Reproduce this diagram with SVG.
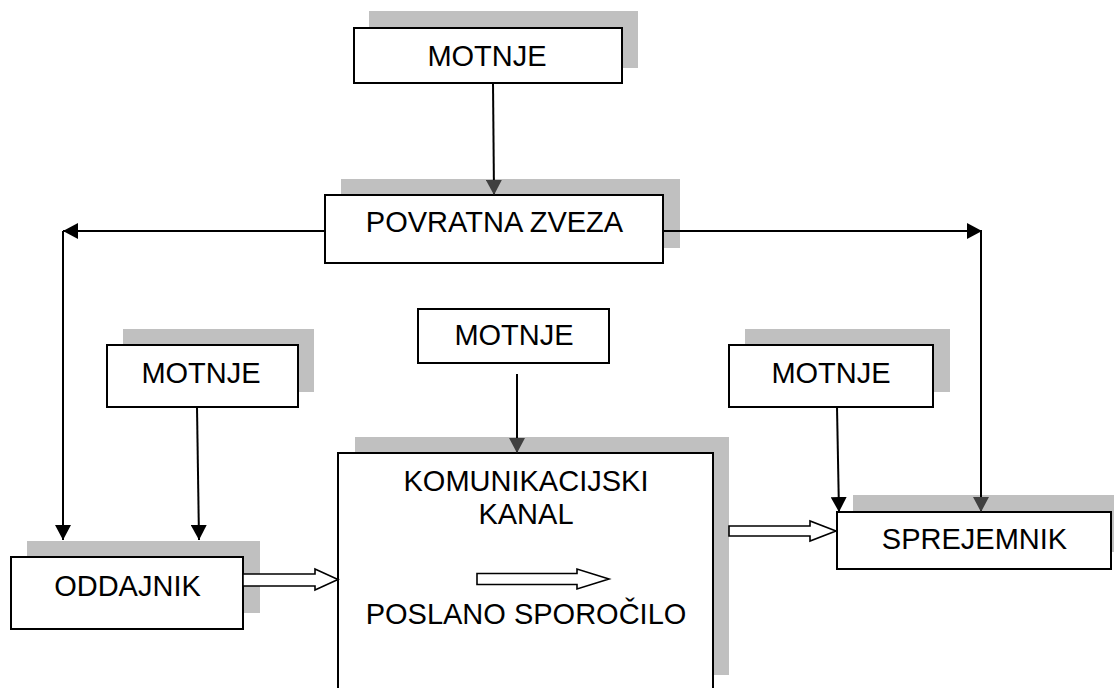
<svg xmlns="http://www.w3.org/2000/svg" width="1114" height="688" viewBox="0 0 1114 688">
<style>
.bg{fill:#ffffff}
.shadow{fill:#c0c0c0;stroke:none}
.box{fill:#ffffff;stroke:#000000;stroke-width:2}
.lbl{font-family:"Liberation Sans",Arial,sans-serif;font-size:29px;fill:#000000;text-anchor:middle}
.ln{fill:none;stroke:#000000;stroke-width:2}
.hollow{fill:#ffffff;stroke:#000000;stroke-width:1.6;stroke-linejoin:miter}
</style>
<defs>
<marker id="arr" markerUnits="userSpaceOnUse" viewBox="0 0 15 16" markerWidth="15" markerHeight="16" refX="15" refY="8" orient="auto">
<path d="M0,0 L15,8 L0,16 Z" fill="#000000"/>
</marker>
<marker id="arrg" markerUnits="userSpaceOnUse" viewBox="0 0 15 16" markerWidth="15" markerHeight="16" refX="15" refY="8" orient="auto">
<path d="M0,0 L15,8 L0,16 Z" fill="#404040"/>
</marker>
</defs>
<rect class="bg" x="0" y="0" width="1114" height="688"/>

<g id="motnje-top">
<rect class="shadow" x="369" y="11" width="269" height="57"/>
<rect class="box" x="354" y="28" width="268" height="55"/>
<text class="lbl" x="487" y="66">MOTNJE</text>
</g>

<g id="povratna-zveza">
<rect class="shadow" x="341" y="179" width="339" height="69"/>
<rect class="box" x="325" y="195" width="338" height="68"/>
<text class="lbl" x="494.5" y="232">POVRATNA ZVEZA</text>
</g>

<g id="motnje-left">
<rect class="shadow" x="123" y="329" width="191" height="63"/>
<rect class="box" x="107" y="345" width="191" height="62"/>
<text class="lbl" x="201" y="383">MOTNJE</text>
</g>

<g id="motnje-middle">
<rect class="box" x="418" y="309" width="191" height="54"/>
<text class="lbl" x="514" y="345">MOTNJE</text>
</g>

<g id="motnje-right">
<rect class="shadow" x="745" y="329" width="205" height="63"/>
<rect class="box" x="729" y="345" width="204" height="62"/>
<text class="lbl" x="831" y="383">MOTNJE</text>
</g>

<g id="oddajnik">
<rect class="shadow" x="27" y="541" width="233" height="72"/>
<rect class="box" x="11" y="557" width="232" height="72"/>
<text class="lbl" x="127.5" y="596">ODDAJNIK</text>
</g>

<g id="komunikacijski-kanal">
<rect class="shadow" x="355" y="437" width="374" height="238"/>
<rect class="box" x="338" y="453" width="375" height="240"/>
<text class="lbl" x="526" y="491">KOMUNIKACIJSKI</text>
<text class="lbl" x="526" y="524">KANAL</text>
<polygon class="hollow" points="477,573.5 577,573.5 577,569 609,579 577,589 577,584.5 477,584.5"/>
<text class="lbl" x="526" y="624">POSLANO SPOROČILO</text>
</g>

<g id="sprejemnik">
<rect class="shadow" x="853" y="495" width="261" height="57"/>
<rect class="box" x="837" y="512" width="274" height="57"/>
<text class="lbl" x="974.5" y="549">SPREJEMNIK</text>
</g>

<g id="connectors">
<path class="ln" d="M493,83 L494,195" marker-end="url(#arrg)"/>
<path class="ln" d="M325,231 H63" marker-end="url(#arr)"/>
<path class="ln" d="M63,231 V540" marker-end="url(#arr)"/>
<path class="ln" d="M663,231 H982" marker-end="url(#arr)"/>
<path class="ln" d="M981,231 V512" marker-end="url(#arrg)"/>
<path class="ln" d="M197,407 L199,540" marker-end="url(#arr)"/>
<path class="ln" d="M517,374 V453" marker-end="url(#arrg)"/>
<path class="ln" d="M837,407 L839,512" marker-end="url(#arr)"/>
<polygon class="hollow" points="243,574 315,574 315,569 338,579.5 315,590 315,586 243,586"/>
<polygon class="hollow" points="729,526 810,526 810,521 836,531 810,541 810,536 729,536"/>
</g>
</svg>
